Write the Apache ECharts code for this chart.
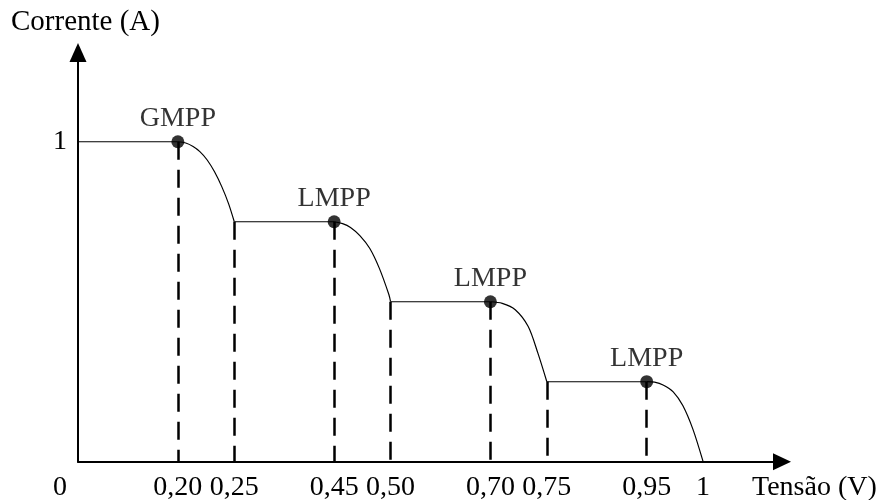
<!DOCTYPE html>
<html>
<head>
<meta charset="utf-8">
<script src="https://cdn.jsdelivr.net/npm/echarts@6/dist/echarts.min.js"></script>
<style>html,body{margin:0;padding:0;background:#fff}#c{width:886px;height:500px}</style>
</head>
<body>
<div id="c"></div>
<script>
// ---- data ----
const voltTicks = [0, 0.20, 0.25, 0.45, 0.50, 0.70, 0.75, 0.95, 1];
const voltLabels = ['0', '0,20', '0,25', '0,45', '0,50', '0,70', '0,75', '0,95', '1'];
const currentTicks = [1];
const currentLabels = ['1'];
const mppVolt = [0.20, 0.45, 0.70, 0.95];
const mppCurrent = [1, 0.75, 0.5, 0.25];
const mppNames = ['GMPP', 'LMPP', 'LMPP', 'LMPP'];
const plateauStartVolt = [0, 0.25, 0.50, 0.75];
const cornerVolt = [0.25, 0.50, 0.75];
const cornerCurrent = [0.75, 0.5, 0.25];
const drop1 = [[0.20, 1], [0.207, 0.996], [0.2135, 0.985], [0.2195, 0.969], [0.226, 0.943], [0.2325, 0.906], [0.239, 0.859], [0.245, 0.806], [0.25, 0.75]];
const drop2 = [[0.45, 0.75], [0.4575, 0.744], [0.4645, 0.732], [0.473, 0.706], [0.4815, 0.667], [0.49, 0.605], [0.4985, 0.5225], [0.50, 0.50]];
const drop3 = [[0.70, 0.5], [0.7105, 0.495], [0.722, 0.475], [0.7335, 0.4225], [0.742, 0.34], [0.75, 0.25]];
const drop4 = [[0.95, 0.25], [0.957, 0.2485], [0.9645, 0.24], [0.9735, 0.2185], [0.982, 0.1755], [0.991, 0.101], [1.0, 0]];
const drops = [drop1, drop2, drop3, drop4];

// ---- schematic (non-linear) x scale: 0.20-wide spans drawn long, 0.05-wide spans drawn short ----
const LONG = 100, SHORT = 56.5;
function u(v) {
  let acc = 0;
  for (let i = 1; i < voltTicks.length; i++) {
    const a = voltTicks[i - 1], b = voltTicks[i];
    const w = (b - a) > 0.1 ? LONG : SHORT;
    if (v <= b) return acc + (v - a) / (b - a) * w;
    acc += w;
  }
  return acc;
}
const uTicks = voltTicks.map(u);

const FONT = 'Liberation Serif';
const series = [];
for (let k = 0; k < drops.length; k++) {
  series.push({
    type: 'line', silent: true, symbol: 'none', smooth: false,
    lineStyle: { color: '#000', width: 1.1 },
    data: [[u(plateauStartVolt[k]), mppCurrent[k]], [u(mppVolt[k]), mppCurrent[k]]]
  });
  series.push({
    type: 'line', silent: true, symbol: 'none', smooth: 0.3,
    lineStyle: { color: '#000', width: 1.2 },
    data: drops[k].map(p => [u(p[0]), p[1]])
  });
}
const dashData = [];
mppVolt.forEach((v, i) => dashData.push([{ coord: [u(v), mppCurrent[i]] }, { coord: [u(v), 0] }]));
cornerVolt.forEach((v, i) => dashData.push([{ coord: [u(v), cornerCurrent[i]] }, { coord: [u(v), 0] }]));
series.push({
  type: 'scatter', silent: true, symbol: 'circle', symbolSize: 13, z: 5,
  itemStyle: { color: '#000' },
  label: {
    show: true, position: 'top', distance: 3, color: '#000',
    fontFamily: FONT, fontSize: 28,
    formatter: p => mppNames[p.dataIndex]
  },
  data: mppVolt.map((v, i) => [u(v), mppCurrent[i]]),
  markLine: {
    silent: true, symbol: ['none', 'none'], animation: false, z: 1,
    label: { show: false },
    lineStyle: { color: '#000', width: 2.5, type: [18, 10] },
    data: dashData
  }
});

const chart = echarts.init(document.getElementById('c'));
chart.setOption({
  animation: false,
  backgroundColor: '#fff',
  title: [
    { text: 'Corrente (A)', left: 11, top: 8, padding: 0,
      textStyle: { fontFamily: FONT, fontSize: 29, fontWeight: 'normal', color: '#000' } },
    { text: 'Tensão (V)', left: 752, top: 474, padding: 0,
      textStyle: { fontFamily: FONT, fontSize: 28, fontWeight: 'normal', color: '#000' } }
  ],
  grid: { left: 78, right: 104, top: 52.5, bottom: 38.3, containLabel: false, outerBoundsMode: 'none' },
  xAxis: {
    type: 'value', min: 0, max: 705,
    splitLine: { show: false },
    axisTick: { show: false },
    axisLine: { show: true, symbol: ['none', 'triangle'], symbolSize: [17, 18],
      lineStyle: { color: '#000', width: 2 } },
    axisLabel: {
      customValues: uTicks, margin: 12, color: '#000', fontFamily: FONT, fontSize: 28,
      formatter: function (val) {
        let idx = 0, best = Infinity;
        uTicks.forEach((t, i) => { const d = Math.abs(t - val); if (d < best) { best = d; idx = i; } });
        return idx === 0 ? '{zero|' + voltLabels[0] + '}' : voltLabels[idx];
      },
      rich: { zero: { fontFamily: FONT, fontSize: 28, color: '#000', padding: [0, 36, 0, 0] } }
    }
  },
  yAxis: {
    type: 'value', min: 0, max: 1.279,
    splitLine: { show: false },
    axisTick: { show: false },
    axisLine: { show: true, symbol: ['none', 'triangle'], symbolSize: [17, 19],
      lineStyle: { color: '#000', width: 2 } },
    axisLabel: {
      customValues: currentTicks, margin: 11, color: '#000', fontFamily: FONT, fontSize: 28,
      formatter: function (val) { return currentLabels[currentTicks.indexOf(val)] || ''; }
    }
  },
  series: series
});
</script>
</body>
</html>
